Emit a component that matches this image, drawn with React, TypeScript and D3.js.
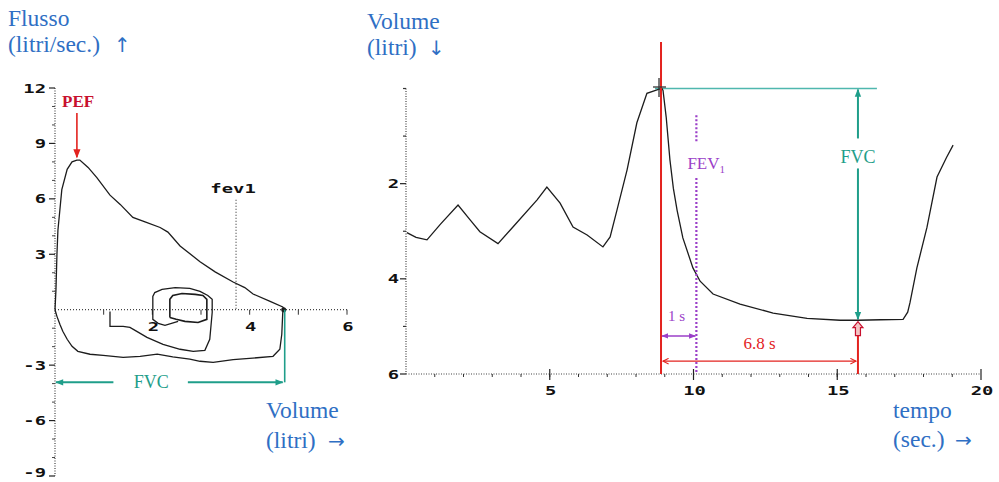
import React from 'react';
import * as d3 from 'd3';

// ---------- Left chart: flow-volume loop (volume L, flow L/s) ----------
const flowTicks = [12, 9, 6, 3, -3, -6, -9];
const flowMinorTicks = [11, 10, 8, 7, 5, 4, 2, 1, -1, -2, -4, -5, -7, -8];
const volumeTicks = [2, 4, 6];
const volumeMinorTicks = [1, 2, 3, 4, 5, 6];

const expiratoryCurve: [number, number][] = [
  [0, 0], [0.02, 1.1], [0.04, 3.0], [0.06, 4.3], [0.1, 5.4], [0.14, 6.5], [0.25, 7.6],
  [0.35, 8.0], [0.45, 8.1], [0.51, 8.1], [0.68, 7.7], [0.86, 7.15], [1.13, 6.2],
  [1.34, 5.7], [1.6, 5.0], [1.85, 4.75], [2.16, 4.45], [2.32, 4.2], [2.57, 3.45],
  [2.98, 2.6], [3.29, 2.05], [3.66, 1.5], [3.9, 1.2], [4.07, 0.85], [4.42, 0.45],
  [4.68, 0.15], [4.72, 0],
];
const inspiratoryCurve: [number, number][] = [
  [0, 0], [0.04, -0.36], [0.1, -0.79], [0.16, -1.17], [0.25, -1.6], [0.35, -1.98],
  [0.47, -2.25], [0.72, -2.41], [0.99, -2.47], [1.4, -2.58], [1.75, -2.52],
  [2.1, -2.4], [2.42, -2.55], [2.77, -2.68], [2.98, -2.79], [3.25, -2.85],
  [3.66, -2.7], [4.15, -2.6], [4.48, -2.52], [4.62, -2.14], [4.66, -1.33],
  [4.68, -0.15], [4.72, 0],
];
const tidalLoop: [number, number][] = [
  [1.13, -0.1], [1.13, -0.9], [1.4, -0.9], [1.54, -0.96], [1.68, -1.17], [1.89, -1.5],
  [2.22, -1.87], [2.57, -2.14], [2.84, -2.25], [3.08, -2.2], [3.18, -1.6], [3.23, -0.15],
  [3.23, 0.56], [3.14, 0.77], [2.98, 0.99], [2.77, 1.15], [2.47, 1.2], [2.2, 1.1],
  [2.05, 0.93], [2.01, 0.72], [2.01, 0], [2.01, -0.52], [2.12, -0.74], [2.26, -0.85],
  [2.53, -0.63],
];
const innerLoop: [number, number][] = [
  [2.36, -0.42], [2.36, 0.56], [2.42, 0.77], [2.61, 0.88], [2.88, 0.83], [3.04, 0.77],
  [3.12, 0.56], [3.12, -0.52], [2.94, -0.69], [2.67, -0.63], [2.49, -0.52], [2.36, -0.42],
];

const pefVolume = 0.45;
const pefArrowFlow = [10.65, 8.25];
const fev1Volume = 3.72;
const fev1LineFlow = [5.95, 0];
const fvcVolume = 4.72;
const fvcArrowFlow = -3.93;

// ---------- Right chart: volume-time (s, L) ----------
const volTicks = [2, 4, 6];
const volMinorTicks = [0, 1, 3, 5];
const timeTicks = [5, 10, 15, 20];
const timeMinorTicks = d3.range(1, 20);

const spirogram: [number, number][] = [
  [0.03, 3.03], [0.35, 3.13], [0.73, 3.18], [1.2, 2.85], [1.81, 2.45], [2.23, 2.76],
  [2.57, 3.01], [3.2, 3.26], [3.72, 2.91], [4.56, 2.34], [4.9, 2.07], [5.36, 2.41],
  [5.81, 2.91], [6.3, 3.08], [6.85, 3.33], [7.1, 3.12], [7.34, 2.55], [7.69, 1.71],
  [8.03, 0.72], [8.38, 0.1], [8.73, 0.03], [8.9, 0.0], [8.94, 0.04], [9.05, 0.6],
  [9.18, 1.5], [9.3, 2.1], [9.43, 2.56], [9.63, 3.14], [9.98, 3.77], [10.23, 4.05],
  [10.68, 4.32], [11.62, 4.53], [12.77, 4.72], [13.95, 4.83], [15.1, 4.87],
  [15.72, 4.87], [16.5, 4.86], [17.29, 4.85], [17.45, 4.7], [17.53, 4.5],
  [17.77, 3.77], [18.12, 2.92], [18.47, 1.86], [18.8, 1.45], [19.03, 1.19],
];

const tStart = 8.87;
const tFev1 = 10.1;
const tEnd = 15.72;
const fvcTopVol = 0;
const fvcBottomVol = 4.87;

const blue = '#2f6fc4';
const red = '#e3231f';
const darkRed = '#c8102e';
const teal = '#1f9e8a';
const purple = '#9b3fc8';
const ink = '#1c1c1c';
const axisGray = '#444';
const monoFont = "'DejaVu Sans Mono', monospace";
const serifFont = "'Liberation Serif', 'DejaVu Serif', serif";
const arrowFont = "'DejaVu Sans', sans-serif";

function Mono({ x, y, anchor, children }: { x: number; y: number; anchor: string; children: React.ReactNode }) {
  return (
    <text transform={`translate(${x},${y}) scale(1.45,1)`} textAnchor={anchor}
      fontFamily={monoFont} fontWeight={700} fontSize={13} fill="#111">{children}</text>
  );
}

function BlueLabel({ x, y, text, arrow, arrowDx }: { x: number; y: number; text: string; arrow?: string; arrowDx?: number }) {
  return (
    <g>
      <text x={x} y={y} fontFamily={serifFont} fontSize={23.5} fill={blue}>{text}</text>
      {arrow && <text x={x + (arrowDx || 0)} y={y} fontFamily={arrowFont} fontSize={20} fill={blue}>{arrow}</text>}
    </g>
  );
}

export default function App() {
  const xL = d3.scaleLinear().domain([0, 6]).range([55, 347]);
  const yL = d3.scaleLinear().domain([-9, 12]).range([476, 88]);
  const xR = d3.scaleLinear().domain([0, 20]).range([406, 981]);
  const yR = d3.scaleLinear().domain([0, 6]).range([88.5, 374]);
  const lineL = d3.line<[number, number]>().x(d => xL(d[0])).y(d => yL(d[1]));
  const lineR = d3.line<[number, number]>().x(d => xR(d[0])).y(d => yR(d[1]));

  const fvcXR = xR(tEnd);

  return (
    <svg width={999} height={482} style={{ position: 'absolute', left: 0, top: 0, background: '#fff' }}>
      <defs>
        <marker id="ah-teal" viewBox="0 0 10 10" refX="9" refY="5" markerWidth="9" markerHeight="8"
          markerUnits="userSpaceOnUse" orient="auto-start-reverse">
          <path d="M0,1 L10,5 L0,9 z" fill={teal} />
        </marker>
        <marker id="ah-red" viewBox="0 0 10 10" refX="9" refY="5" markerWidth="10" markerHeight="9"
          markerUnits="userSpaceOnUse" orient="auto-start-reverse">
          <path d="M0,1 L10,5 L0,9 z" fill={red} />
        </marker>
        <marker id="ah-purple" viewBox="0 0 10 10" refX="9" refY="5" markerWidth="7" markerHeight="7"
          markerUnits="userSpaceOnUse" orient="auto-start-reverse">
          <path d="M0,1 L10,5 L0,9 z" fill={purple} />
        </marker>
        <marker id="ah-redopen" viewBox="0 0 10 10" refX="9" refY="5" markerWidth="7" markerHeight="7"
          markerUnits="userSpaceOnUse" orient="auto-start-reverse">
          <path d="M1,1 L9,5 L1,9" fill="none" stroke={red} strokeWidth={1.6} />
        </marker>
      </defs>

      {/* ===== Left chart ===== */}
      <BlueLabel x={8} y={26} text="Flusso" />
      <BlueLabel x={8} y={52} text="(litri/sec.)" arrow="↑" arrowDx={106} />

      {/* y axis */}
      <line x1={xL(0)} x2={xL(0)} y1={yL(12)} y2={yL(-9)} stroke={axisGray} strokeWidth={1.2} strokeDasharray="1,1.5" />
      {flowTicks.map(t => (
        <g key={'ft' + t}>
          <line x1={xL(0) - 6} x2={xL(0)} y1={yL(t)} y2={yL(t)} stroke="#222" strokeWidth={1.2} />
          <Mono x={xL(0) - 9} y={Math.min(yL(t) + 4.5, 477)} anchor="end">{t}</Mono>
        </g>
      ))}
      {flowMinorTicks.map(t => (
        <line key={'fm' + t} x1={xL(0) - 3} x2={xL(0)} y1={yL(t)} y2={yL(t)} stroke="#444" strokeWidth={1} />
      ))}
      {/* x axis */}
      <line x1={xL(0)} x2={xL(6)} y1={yL(0)} y2={yL(0)} stroke={axisGray} strokeWidth={1.2} strokeDasharray="1,2" />
      {volumeMinorTicks.map(t => (
        <line key={'vm' + t} x1={xL(t)} x2={xL(t)} y1={yL(0)} y2={yL(0) + 5} stroke="#333" strokeWidth={1} />
      ))}
      {volumeTicks.map(t => (
        <Mono key={'vt' + t} x={xL(t) + 1} y={yL(0) + 21} anchor="middle">{t}</Mono>
      ))}

      {/* fev1 marker */}
      <line x1={xL(fev1Volume)} x2={xL(fev1Volume)} y1={yL(fev1LineFlow[0])} y2={yL(fev1LineFlow[1])}
        stroke="#333" strokeWidth={1.1} strokeDasharray="1,2" />
      <Mono x={xL(fev1Volume) - 3} y={yL(fev1LineFlow[0]) - 7} anchor="middle">fev1</Mono>

      {/* curves */}
      <path d={lineL(expiratoryCurve) || ''} fill="none" stroke={ink} strokeWidth={1.3} />
      <path d={lineL(inspiratoryCurve) || ''} fill="none" stroke={ink} strokeWidth={1.3} />
      <path d={lineL(tidalLoop) || ''} fill="none" stroke={ink} strokeWidth={1.3} />
      <path d={lineL(innerLoop) || ''} fill="none" stroke={ink} strokeWidth={1.6} />
      <circle cx={xL(fvcVolume) - 1} cy={yL(0)} r={2.5} fill={ink} />

      {/* PEF */}
      <text x={62} y={107} fontFamily={serifFont} fontWeight={700} fontSize={17} fill={darkRed}>PEF</text>
      <line x1={xL(pefVolume)} x2={xL(pefVolume)} y1={yL(pefArrowFlow[0])} y2={yL(pefArrowFlow[1])}
        stroke={red} strokeWidth={1.6} markerEnd="url(#ah-red)" />

      {/* FVC left */}
      <line x1={xL(fvcVolume)} x2={xL(fvcVolume)} y1={yL(0)} y2={yL(fvcArrowFlow)} stroke={teal} strokeWidth={1.6} />
      <line x1={xL(1.2)} x2={xL(0) + 1} y1={yL(fvcArrowFlow)} y2={yL(fvcArrowFlow)} stroke={teal} strokeWidth={2} markerEnd="url(#ah-teal)" />
      <line x1={xL(2.73)} x2={xL(fvcVolume) - 2} y1={yL(fvcArrowFlow)} y2={yL(fvcArrowFlow)} stroke={teal} strokeWidth={2} markerEnd="url(#ah-teal)" />
      <text x={xL(1.98)} y={yL(fvcArrowFlow) + 6} textAnchor="middle" fontFamily={serifFont} fontSize={18} fill={teal}>FVC</text>

      <BlueLabel x={266} y={418} text="Volume" />
      <BlueLabel x={266} y={448} text="(litri)" arrow="→" arrowDx={62} />

      {/* ===== Right chart ===== */}
      <BlueLabel x={367} y={29} text="Volume" />
      <BlueLabel x={367} y={55} text="(litri)" arrow="↓" arrowDx={61} />

      <line x1={xR(0)} x2={xR(0)} y1={yR(0)} y2={yR(6)} stroke={axisGray} strokeWidth={1.2} strokeDasharray="1,1.5" />
      {volTicks.map(t => (
        <g key={'rt' + t}>
          <line x1={xR(0) - 6} x2={xR(0)} y1={yR(t)} y2={yR(t)} stroke="#222" strokeWidth={1.2} />
          <Mono x={xR(0) - 7} y={yR(t) + 4.5} anchor="end">{t}</Mono>
        </g>
      ))}
      {volMinorTicks.map(t => (
        <line key={'rm' + t} x1={xR(0) - 3} x2={xR(0)} y1={yR(t)} y2={yR(t)} stroke="#333" strokeWidth={1.2} />
      ))}
      <line x1={xR(0)} x2={xR(20)} y1={yR(6)} y2={yR(6)} stroke={axisGray} strokeWidth={1.2} strokeDasharray="1,1.5" />
      {timeMinorTicks.map(t => (
        <line key={'tm' + t} x1={xR(t)} x2={xR(t)} y1={yR(6)} y2={yR(6) + 3} stroke="#333" strokeWidth={1} />
      ))}
      {timeTicks.map(t => (
        <g key={'tt' + t}>
          <line x1={xR(t)} x2={xR(t)} y1={yR(6) - 5} y2={yR(6) + 6} stroke="#222" strokeWidth={1.2} />
          <Mono x={xR(t) + 1} y={yR(6) + 21} anchor="middle">{t}</Mono>
        </g>
      ))}

      {/* FVC teal */}
      <line x1={xR(8.66)} x2={xR(16.38)} y1={yR(fvcTopVol)} y2={yR(fvcTopVol)} stroke="#4fb7ae" strokeWidth={1.6} />
      <line x1={fvcXR} x2={fvcXR} y1={yR(1.05)} y2={yR(fvcTopVol) + 1} stroke={teal} strokeWidth={2} markerEnd="url(#ah-teal)" />
      <line x1={fvcXR} x2={fvcXR} y1={yR(1.68)} y2={yR(fvcBottomVol) - 1} stroke={teal} strokeWidth={2} markerEnd="url(#ah-teal)" />
      <text x={fvcXR} y={yR(1.45) + 6} textAnchor="middle" fontFamily={serifFont} fontSize={18} fill={teal}>FVC</text>

      {/* spirogram curve */}
      <path d={lineR(spirogram) || ''} fill="none" stroke={ink} strokeWidth={1.3} />

      {/* FEV1 purple dotted */}
      <line x1={xR(tFev1)} x2={xR(tFev1)} y1={yR(0.56)} y2={yR(1.15)} stroke={purple} strokeWidth={2.2} strokeDasharray="2,2" />
      <line x1={xR(tFev1)} x2={xR(tFev1)} y1={yR(1.88)} y2={yR(6)} stroke={purple} strokeWidth={2.2} strokeDasharray="2,2" />
      <text x={xR(tFev1) - 9} y={yR(1.7)} fontFamily={serifFont} fontSize={17} fill={purple}>
        FEV<tspan fontSize={11} dy={4}>1</tspan>
      </text>

      {/* red timing lines */}
      <line x1={xR(tStart)} x2={xR(tStart)} y1={42} y2={yR(6)} stroke={red} strokeWidth={2} />
      <line x1={xR(tEnd)} x2={xR(tEnd)} y1={yR(4.95)} y2={yR(6)} stroke={red} strokeWidth={2} />
      <path d={`M${fvcXR},${yR(4.9)} l5,6 l-2.5,0 l0,8 l-5,0 l0,-8 l-2.5,0 z`} fill="#f3c4c4" stroke={darkRed} strokeWidth={1.2} />
      <g stroke="#333" strokeWidth={1.3}>
        <line x1={xR(tStart) - 2} x2={xR(tStart) - 2} y1={78} y2={97} />
        <line x1={xR(tStart) - 8} x2={xR(tStart) + 5} y1={87} y2={87} />
      </g>

      {/* 1 s */}
      <text x={xR(tStart) + 7} y={321} fontFamily={serifFont} fontSize={15} fill={purple}>1 s</text>
      <line x1={xR(tStart) + 1} x2={xR(tFev1) - 1} y1={yR(5.2)} y2={yR(5.2)} stroke={purple} strokeWidth={1.6}
        markerStart="url(#ah-purple)" markerEnd="url(#ah-purple)" />

      {/* 6.8 s */}
      <text x={(xR(tStart) + xR(tEnd)) / 2} y={349} textAnchor="middle" fontFamily={serifFont} fontSize={17} fill={red}>6.8 s</text>
      <line x1={xR(tStart) + 2} x2={xR(tEnd) - 2} y1={yR(5.73)} y2={yR(5.73)} stroke={red} strokeWidth={1.4}
        markerStart="url(#ah-redopen)" markerEnd="url(#ah-redopen)" />

      <BlueLabel x={893} y={418} text="tempo" />
      <BlueLabel x={893} y={447} text="(sec.)" arrow="→" arrowDx={62} />
    </svg>
  );
}
